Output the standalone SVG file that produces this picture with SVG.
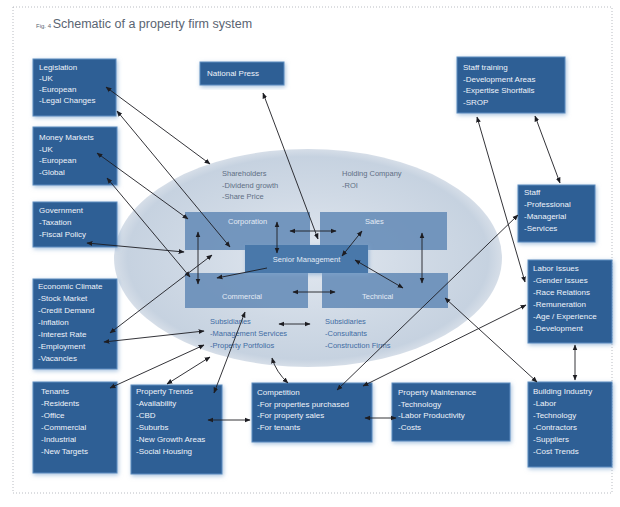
<svg xmlns="http://www.w3.org/2000/svg" width="620" height="507" viewBox="0 0 620 507">
<style>
.box{fill:#2f5f95;stroke:#5d8dc0;stroke-width:1;filter:url(#glow)}
.bt{font-family:"Liberation Sans",Arial,sans-serif;font-size:8px;fill:#eef3fa}
.it{font-family:"Liberation Sans",Arial,sans-serif;font-size:7.5px;fill:#5f6f84}
.st{font-family:"Liberation Sans",Arial,sans-serif;font-size:7.5px;fill:#3f6ca3}
.unit{fill:#6a8fba;opacity:0.92}
.ut{font-family:"Liberation Sans",Arial,sans-serif;font-size:7.5px;fill:#e3ebf5}
.c{fill:none;stroke:#1d1d22;stroke-width:0.9;marker-start:url(#ah);marker-end:url(#ah)}
.c1{fill:none;stroke:#1d1d22;stroke-width:0.9;marker-end:url(#ah)}
</style>
<defs>
<marker id="ah" viewBox="0 0 10 10" refX="9" refY="5" markerWidth="6" markerHeight="6" markerUnits="userSpaceOnUse" orient="auto-start-reverse">
<path d="M0,1 L10,5 L0,9 z" fill="#1d1d22"/>
</marker>
<filter id="glow" x="-20%" y="-20%" width="140%" height="140%">
<feDropShadow dx="1" dy="1.5" stdDeviation="2" flood-color="#7fa6cf" flood-opacity="0.7"/>
</filter>
<radialGradient id="eg" cx="50%" cy="50%" r="50%">
<stop offset="0" stop-color="#e2e8f0"/>
<stop offset="0.6" stop-color="#cfd9e5"/>
<stop offset="0.93" stop-color="#c6d2e0"/>
<stop offset="1" stop-color="#d6dee8"/>
</radialGradient>
</defs>
<rect x="0" y="0" width="620" height="507" fill="#ffffff"/>
<rect x="13" y="7" width="599" height="486" fill="none" stroke="#b9bcc2" stroke-width="1" stroke-dasharray="1 2"/>
<text x="36" y="28" font-family="Liberation Sans, Arial, sans-serif" fill="#5a6472"><tspan font-size="6px">Fig. 4 </tspan><tspan font-size="12.5px">Schematic of a property firm system</tspan></text>

<g id="firm">
<ellipse cx="308" cy="258" rx="194" ry="109" fill="url(#eg)"/>
<text class="it" x="222" y="176">Shareholders</text>
<text class="it" x="222" y="188">-Dividend growth</text>
<text class="it" x="222" y="199">-Share Price</text>
<text class="it" x="342" y="176">Holding Company</text>
<text class="it" x="342" y="188">-ROI</text>
<g id="corporation"><rect class="unit" x="185" y="212" width="125" height="38"/><text class="ut" x="228" y="224">Corporation</text></g>
<g id="sales"><rect class="unit" x="320" y="212" width="127" height="38"/><text class="ut" x="365" y="224">Sales</text></g>
<g id="commercial"><rect class="unit" x="185" y="273" width="123" height="35"/><text class="ut" x="222" y="299">Commercial</text></g>
<g id="technical"><rect class="unit" x="322" y="273" width="126" height="35"/><text class="ut" x="362" y="299">Technical</text></g>
<g id="senior"><rect x="245" y="245" width="123" height="28" fill="#4a78aa" filter="url(#glow)"/><text class="ut" x="306.5" y="262" text-anchor="middle">Senior Management</text></g>
<text class="st" x="210" y="324">Subsidiaries</text>
<text class="st" x="210" y="336">-Management Services</text>
<text class="st" x="210" y="348">-Property Portfolios</text>
<text class="st" x="325" y="324">Subsidiaries</text>
<text class="st" x="325" y="336">-Consultants</text>
<text class="st" x="325" y="348">-Construction Firms</text>
</g>

<g id="legislation"><rect class="box" x="33" y="59" width="83" height="57"/>
<text class="bt" x="39" y="70">Legislation</text><text class="bt" x="39" y="81">-UK</text><text class="bt" x="39" y="92">-European</text><text class="bt" x="39" y="103">-Legal Changes</text></g>
<g id="press"><rect class="box" x="200" y="62" width="84" height="23"/>
<text class="bt" x="207" y="76">National Press</text></g>
<g id="training"><rect class="box" x="457" y="57" width="108" height="56"/>
<text class="bt" x="463" y="70">Staff training</text><text class="bt" x="463" y="81.5">-Development Areas</text><text class="bt" x="463" y="93">-Expertise Shortfalls</text><text class="bt" x="463" y="104.5">-SROP</text></g>
<g id="money"><rect class="box" x="33" y="127" width="84" height="58"/>
<text class="bt" x="39" y="140">Money Markets</text><text class="bt" x="39" y="151.5">-UK</text><text class="bt" x="39" y="163">-European</text><text class="bt" x="39" y="174.5">-Global</text></g>
<g id="government"><rect class="box" x="33" y="202" width="84" height="45"/>
<text class="bt" x="39" y="213">Government</text><text class="bt" x="39" y="225">-Taxation</text><text class="bt" x="39" y="237">-Fiscal Policy</text></g>
<g id="economic"><rect class="box" x="33" y="279" width="84" height="90"/>
<text class="bt" x="38" y="289">Economic Climate</text><text class="bt" x="38" y="301">-Stock Market</text><text class="bt" x="38" y="313">-Credit Demand</text><text class="bt" x="38" y="325">-Inflation</text><text class="bt" x="38" y="337">-Interest Rate</text><text class="bt" x="38" y="349">-Employment</text><text class="bt" x="38" y="361">-Vacancies</text></g>
<g id="tenants"><rect class="box" x="33" y="382" width="84" height="91"/>
<text class="bt" x="41" y="394">Tenants</text><text class="bt" x="41" y="406">-Residents</text><text class="bt" x="41" y="418">-Office</text><text class="bt" x="41" y="430">-Commercial</text><text class="bt" x="41" y="442">-Industrial</text><text class="bt" x="41" y="454">-New Targets</text></g>
<g id="trends"><rect class="box" x="131" y="385" width="91" height="89"/>
<text class="bt" x="136" y="394">Property Trends</text><text class="bt" x="136" y="406">-Availability</text><text class="bt" x="136" y="418">-CBD</text><text class="bt" x="136" y="430">-Suburbs</text><text class="bt" x="136" y="442">-New Growth Areas</text><text class="bt" x="136" y="454">-Social Housing</text></g>
<g id="competition"><rect class="box" x="252" y="383" width="120" height="59"/>
<text class="bt" x="257" y="395">Competition</text><text class="bt" x="257" y="406.5">-For properties purchased</text><text class="bt" x="257" y="418">-For property sales</text><text class="bt" x="257" y="429.5">-For tenants</text></g>
<g id="maintenance"><rect class="box" x="392" y="383" width="118" height="58"/>
<text class="bt" x="398" y="395">Property Maintenance</text><text class="bt" x="398" y="406.5">-Technology</text><text class="bt" x="398" y="418">-Labor Productivity</text><text class="bt" x="398" y="429.5">-Costs</text></g>
<g id="building"><rect class="box" x="528" y="382" width="84" height="85"/>
<text class="bt" x="533" y="394">Building Industry</text><text class="bt" x="533" y="406">-Labor</text><text class="bt" x="533" y="418">-Technology</text><text class="bt" x="533" y="430">-Contractors</text><text class="bt" x="533" y="442">-Suppliers</text><text class="bt" x="533" y="454">-Cost Trends</text></g>
<g id="staff"><rect class="box" x="518" y="185" width="77" height="57"/>
<text class="bt" x="524" y="195">Staff</text><text class="bt" x="524" y="207">-Professional</text><text class="bt" x="524" y="219">-Managerial</text><text class="bt" x="524" y="231">-Services</text></g>
<g id="labor"><rect class="box" x="528" y="260" width="84" height="83"/>
<text class="bt" x="533" y="271">Labor Issues</text><text class="bt" x="533" y="283">-Gender Issues</text><text class="bt" x="533" y="295">-Race Relations</text><text class="bt" x="533" y="307">-Remuneration</text><text class="bt" x="533" y="319">-Age / Experience</text><text class="bt" x="533" y="331">-Development</text></g>

<g id="connectors">
<line class="c" x1="106" y1="87" x2="210" y2="164"/>
<line class="c" x1="117" y1="111" x2="230" y2="247"/>
<line class="c" x1="263" y1="93" x2="318" y2="239"/>
<line class="c" x1="97" y1="153" x2="188" y2="219"/>
<line class="c" x1="107" y1="178" x2="190" y2="277"/>
<line class="c" x1="87" y1="243" x2="184" y2="252"/>
<line class="c" x1="110" y1="333" x2="212" y2="255"/>
<line class="c" x1="104" y1="342" x2="204" y2="331"/>
<line class="c" x1="110" y1="388" x2="204" y2="345"/>
<line class="c" x1="167" y1="384" x2="210" y2="357"/>
<line class="c" x1="214" y1="393" x2="245" y2="312"/>
<line class="c" x1="208" y1="420" x2="250" y2="420"/>
<path class="c" d="M288,383 Q276,372 272,358"/>
<line class="c" x1="337" y1="390" x2="518" y2="215"/>
<line class="c" x1="363" y1="386" x2="526" y2="305"/>
<line class="c" x1="365" y1="418" x2="396" y2="418"/>
<line class="c" x1="445" y1="298" x2="537" y2="382"/>
<line class="c" x1="575" y1="345" x2="575" y2="380"/>
<line class="c" x1="477" y1="117" x2="525" y2="282"/>
<line class="c" x1="535" y1="116" x2="560" y2="183"/>
<line class="c" x1="198" y1="232" x2="198" y2="284"/>
<line class="c" x1="277" y1="222" x2="277" y2="253"/>
<line class="c" x1="290" y1="231" x2="336" y2="231"/>
<line class="c" x1="362" y1="231" x2="342" y2="256"/>
<line class="c" x1="422" y1="233" x2="422" y2="283"/>
<line class="c" x1="293" y1="292" x2="335" y2="292"/>
<line class="c1" x1="267" y1="268" x2="217" y2="278"/>
<line class="c" x1="355" y1="260" x2="403" y2="288"/>
<line class="c" x1="279" y1="324" x2="310" y2="324"/>
</g>
</svg>
